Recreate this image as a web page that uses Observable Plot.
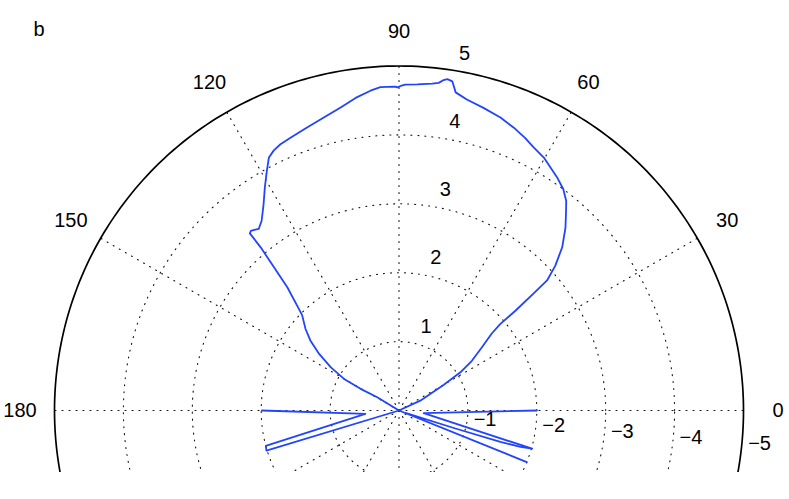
<!DOCTYPE html>
<html><head><meta charset="utf-8">
<script src="https://cdn.jsdelivr.net/npm/d3@7"></script>
<script src="https://cdn.jsdelivr.net/npm/@observablehq/plot@0.6"></script>
<style>
html,body{margin:0;padding:0;background:#fff;}
#chart svg{display:block;}
</style></head><body><div id="chart"></div>
<script>
// Polar curve: angle (degrees) and signed radius (negative radius plots on the opposite side)
const thetaDeg = [0, 5.6, 14.9, 16.8, 20, 24.9, 29.8, 31.9, 34.3, 37.3, 39.7, 40.5, 40.6, 41.0, 41.3, 42.8, 45.0, 47.7, 50.1, 51.4, 53.4, 55.9, 60.2, 62.9, 65.2, 67.9, 70.9, 74.4, 77.7, 79.9, 80.8, 81.7, 82.3, 83.1, 84.2, 86.8, 88.9, 89.7, 90.3, 90.6, 92.1, 93.3, 95.1, 97.9, 100.9, 104.4, 108.0, 111.7, 114.0, 115.7, 117.2, 118.9, 121.0, 123.3, 125.9, 127.7, 128.7, 129.5, 130.1, 130.3, 131.1, 132.2, 134.6, 135.5, 138.9, 141.7, 144.7, 147.7, 150.1, 150.6, 148.6, 155, 158, 159, 162.3, 162.8, 163.3, 164, 173.8, 180];
const rhoVals = [-1.99, -0.49, -2.0, -2.01, 0, 0.34, 0.75, 1.05, 1.28, 1.51, 1.75, 1.93, 2.23, 2.59, 2.86, 3.09, 3.35, 3.59, 3.78, 3.89, 4.00, 4.09, 4.23, 4.29, 4.36, 4.43, 4.50, 4.56, 4.62, 4.69, 4.84, 4.86, 4.84, 4.79, 4.77, 4.74, 4.73, 4.71, 4.69, 4.70, 4.70, 4.70, 4.66, 4.58, 4.48, 4.39, 4.32, 4.26, 4.23, 4.19, 4.13, 3.97, 3.78, 3.58, 3.40, 3.33, 3.36, 3.38, 3.36, 3.10, 2.76, 2.41, 2.07, 1.97, 1.80, 1.64, 1.42, 1.17, 0.92, 0.64, 0.37, 0, -2.0, -0.1, -0.86, -1.54, -1.84, -2.01, -0.36, -2.0];

const angleTicks = [0, 30, 60, 90, 120, 150, 180];
const spokeAngles = [0, 30, 60, 90, 120, 150, 180, 210, 240, 270, 300, 330];
const ringTicks = [1, 2, 3, 4];
const rMax = 5;
const posRhoLabels = [1, 2, 3, 4, 5];
const negRhoLabels = [-1, -2, -3, -4, -5];
const panelLabel = "b";

const rad = d => d * Math.PI / 180;
const curve = thetaDeg.map((t, i) => ({x: rhoVals[i] * Math.cos(rad(t)), y: rhoVals[i] * Math.sin(rad(t))}));
const circlePts = r => d3.range(0, 361, 1).map(a => ({r, x: r * Math.cos(rad(a)), y: r * Math.sin(rad(a))}));
const rings = ringTicks.flatMap(circlePts);
const outer = circlePts(rMax);
const spokes = spokeAngles.flatMap(a => [{a, x: 0, y: 0}, {a, x: rMax * Math.cos(rad(a)), y: rMax * Math.sin(rad(a))}]);
const angleLabelData = angleTicks.map(a => ({a, x: 1.1 * rMax * Math.cos(rad(a)), y: 1.1 * rMax * Math.sin(rad(a))}));
const posLab = posRhoLabels.map(v => ({v, x: v * Math.cos(rad(82)), y: v * Math.sin(rad(82))}));
const negLab = negRhoLabels.map(v => ({v, x: -v * Math.cos(rad(-5)), y: -v * Math.sin(rad(-5))}));

const cx = 398.5, cy = 410, R = 344.5;
const font = "'Liberation Sans', Arial, Helvetica, sans-serif";
const fmt = v => (v < 0 ? "\u2212" + Math.abs(v) : String(v));

const chart = Plot.plot({
  width: 789, height: 499,
  marginTop: 0, marginLeft: 0, marginRight: 0, marginBottom: 27,
  x: {domain: [-rMax, rMax], range: [cx - R, cx + R], axis: null},
  y: {domain: [-rMax, rMax], range: [cy + R, cy - R], axis: null},
  style: {fontFamily: font, background: "white", overflow: "visible"},
  marks: [
    Plot.line(rings, {x: "x", y: "y", z: "r", stroke: "#111", strokeWidth: 1.1, strokeDasharray: "1,6", clip: true}),
    Plot.line(spokes, {x: "x", y: "y", z: "a", stroke: "#111", strokeWidth: 1.1, strokeDasharray: "1,6", clip: true}),
    Plot.line(outer, {x: "x", y: "y", stroke: "#000", strokeWidth: 1.7, clip: true}),
    Plot.line(curve, {x: "x", y: "y", stroke: "#2244ff", strokeWidth: 1.8, curve: "linear", clip: true}),
    Plot.text(angleLabelData, {x: "x", y: "y", text: d => String(d.a), fontSize: 20, fill: "#000", textAnchor: "middle", lineAnchor: "middle"}),
    Plot.text(posLab, {x: "x", y: "y", text: d => fmt(d.v), fontSize: 20, fill: "#000", textAnchor: "start", lineAnchor: "middle", dx: 12, dy: -16}),
    Plot.text(negLab, {x: "x", y: "y", text: d => fmt(d.v), fontSize: 20, fill: "#000", textAnchor: "start", lineAnchor: "middle", dx: 6, dy: 3}),
    Plot.text([panelLabel], {frameAnchor: "top-left", text: d => d, fontSize: 20, fill: "#000", textAnchor: "start", lineAnchor: "middle", dx: 33, dy: 29})
  ]
});
document.getElementById("chart").appendChild(chart);
</script>
</body></html>
